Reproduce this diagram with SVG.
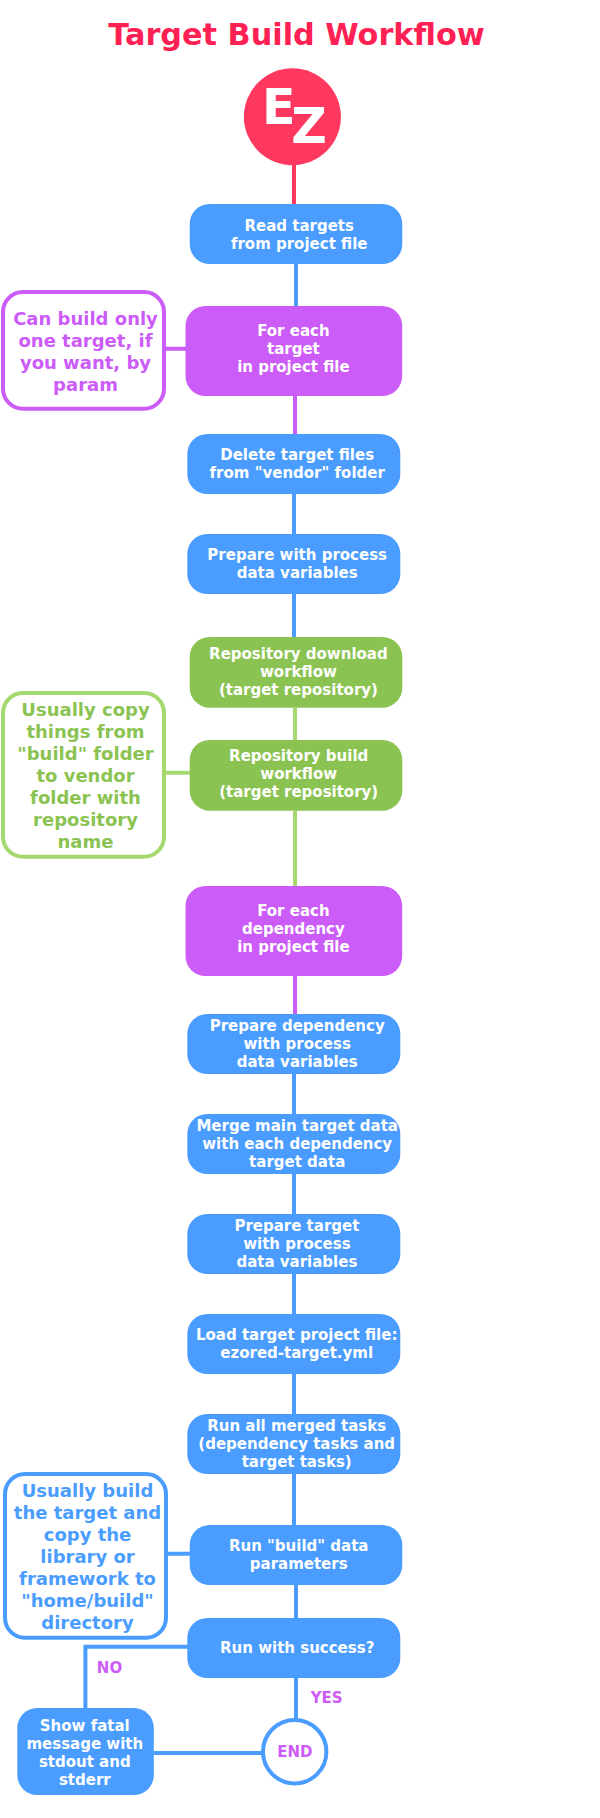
<svg xmlns="http://www.w3.org/2000/svg" width="600" height="1818" viewBox="0 0 600 1818">
<style>
text{font-family:"DejaVu Sans",Verdana,sans-serif;font-weight:700;text-anchor:middle}
.n{font-size:15px;fill:#fff}
.c{font-size:18px}
rect{rx:20px}
.b{fill:#4a9dff}.p{fill:#cc5cf7}.g{fill:#8bc352}
.cb{fill:#fff;stroke:#4a9dff;stroke-width:4}
.cp{fill:#fff;stroke:#cc5cf7;stroke-width:4}
.cg{fill:#fff;stroke:#a5d970;stroke-width:4}
.l{fill:none;stroke-width:4}
.lb{stroke:#4a9dff}.lp{stroke:#cc5cf7}.lg{stroke:#a5d970}.lr{stroke:#ff3860}
.t{font-size:15px;fill:#cc5cf7}
</style>
<rect style="rx:0" width="600" height="1818" fill="#fff"/>
<text id="title" x="296.5" y="45" font-size="30.3" fill="#ff2153">Target Build Workflow</text>
<g id="connectors">
<path class="l lr" d="M294 165V204"/>
<path class="l lb" d="M296 264V306"/>
<path class="l lp" d="M295 396V434M166 348.7H186"/>
<path class="l lb" d="M294 494V534M294 594V637"/>
<path class="l lg" d="M295 708V740M295 811V886M166 772.8H190"/>
<path class="l lp" d="M295 976V1014"/>
<path class="l lb" d="M294 1074V1114M294 1174V1214M294 1274V1314M294 1374V1414M294 1474V1525M168 1553.7H190M296 1585V1618M296 1678V1720M188 1646.8H85.4V1708M153.5 1753H262"/>
</g>
<g id="start"><circle cx="292.4" cy="116.7" r="48.5" fill="#ff3860"/>
<text x="278.8" y="124" font-size="49" fill="#fff">E</text>
<text x="309" y="142.7" font-size="49" fill="#fff">Z</text></g>
<g id="read-targets"><rect class="b" x="189.7" y="204" width="212.6" height="60"/>
<text class="n" y="231"><tspan x="299.2">Read targets</tspan><tspan x="299.2" dy="18">from project file</tspan></text></g>
<g id="for-each-target"><rect class="p" x="185.5" y="306" width="216.7" height="90"/>
<text class="n" y="336"><tspan x="293.4">For each</tspan><tspan x="293.4" dy="18">target</tspan><tspan x="293.4" dy="18">in project file</tspan></text></g>
<g id="note-target"><rect class="cp" x="3" y="292" width="161" height="116.7"/>
<text class="c p" y="325"><tspan x="85.5">Can build only</tspan><tspan x="85.5" dy="22">one target, if</tspan><tspan x="85.5" dy="22">you want, by</tspan><tspan x="85.5" dy="22">param</tspan></text></g>
<g id="delete-target"><rect class="b" x="187.3" y="434" width="213" height="60"/>
<text class="n" y="460"><tspan x="297.2">Delete target files</tspan><tspan x="297.2" dy="18">from "vendor" folder</tspan></text></g>
<g id="prepare-process"><rect class="b" x="187.3" y="534" width="213" height="60"/>
<text class="n" y="560"><tspan x="297.2">Prepare with process</tspan><tspan x="297.2" dy="18">data variables</tspan></text></g>
<g id="repo-download"><rect class="g" x="189.7" y="637" width="212.6" height="70.7"/>
<text class="n" y="659"><tspan x="298.4">Repository download</tspan><tspan x="298.4" dy="18">workflow</tspan><tspan x="298.4" dy="18">(target repository)</tspan></text></g>
<g id="repo-build"><rect class="g" x="189.7" y="740" width="212.6" height="70.7"/>
<text class="n" y="761"><tspan x="298.7">Repository build</tspan><tspan x="298.7" dy="18">workflow</tspan><tspan x="298.7" dy="18">(target repository)</tspan></text></g>
<g id="note-repo"><rect class="cg" x="3" y="693" width="161" height="163.7"/>
<text class="c g" y="716"><tspan x="85.5">Usually copy</tspan><tspan x="85.5" dy="22">things from</tspan><tspan x="85.5" dy="22">"build" folder</tspan><tspan x="85.5" dy="22">to vendor</tspan><tspan x="85.5" dy="22">folder with</tspan><tspan x="85.5" dy="22">repository</tspan><tspan x="85.5" dy="22">name</tspan></text></g>
<g id="for-each-dependency"><rect class="p" x="185.5" y="886" width="216.7" height="90"/>
<text class="n" y="916"><tspan x="293.4">For each</tspan><tspan x="293.4" dy="18">dependency</tspan><tspan x="293.4" dy="18">in project file</tspan></text></g>
<g id="prepare-dependency"><rect class="b" x="187.3" y="1014" width="213" height="60"/>
<text class="n" y="1031"><tspan x="297.2">Prepare dependency</tspan><tspan x="297.2" dy="18">with process</tspan><tspan x="297.2" dy="18">data variables</tspan></text></g>
<g id="merge"><rect class="b" x="187.3" y="1114" width="213" height="60"/>
<text class="n" y="1131"><tspan x="297.2">Merge main target data</tspan><tspan x="297.2" dy="18">with each dependency</tspan><tspan x="297.2" dy="18">target data</tspan></text></g>
<g id="prepare-target"><rect class="b" x="187.3" y="1214" width="213" height="60"/>
<text class="n" y="1231"><tspan x="296.9">Prepare target</tspan><tspan x="296.9" dy="18">with process</tspan><tspan x="296.9" dy="18">data variables</tspan></text></g>
<g id="load-target"><rect class="b" x="187.3" y="1314" width="213" height="60"/>
<text class="n" y="1340"><tspan x="296.7">Load target project file:</tspan><tspan x="296.7" dy="18">ezored-target.yml</tspan></text></g>
<g id="run-merged"><rect class="b" x="187.3" y="1414" width="213" height="60"/>
<text class="n" y="1431"><tspan x="296.7">Run all merged tasks</tspan><tspan x="296.7" dy="18">(dependency tasks and</tspan><tspan x="296.7" dy="18">target tasks)</tspan></text></g>
<g id="note-build"><rect class="cb" x="5" y="1474" width="161" height="163.7"/>
<text class="c b" y="1496.7"><tspan x="87.5">Usually build</tspan><tspan x="87.5" dy="22">the target and</tspan><tspan x="87.5" dy="22">copy the</tspan><tspan x="87.5" dy="22">library or</tspan><tspan x="87.5" dy="22">framework to</tspan><tspan x="87.5" dy="22">"home/build"</tspan><tspan x="87.5" dy="22">directory</tspan></text></g>
<g id="run-build"><rect class="b" x="189.7" y="1525" width="212.6" height="60"/>
<text class="n" y="1551"><tspan x="298.7">Run "build" data</tspan><tspan x="298.7" dy="18">parameters</tspan></text></g>
<g id="run-success"><rect class="b" x="187.3" y="1618" width="213" height="60"/>
<text class="n" x="297.2" y="1653">Run with success?</text></g>
<g id="fatal"><rect class="b" x="17.3" y="1708" width="136.5" height="87"/>
<text class="n" y="1731"><tspan x="84.8">Show fatal</tspan><tspan x="84.8" dy="18">message with</tspan><tspan x="84.8" dy="18">stdout and</tspan><tspan x="84.8" dy="18">stderr</tspan></text></g>
<g id="end"><circle class="cb" cx="294.7" cy="1751.7" r="31.7"/>
<text class="t" x="294.8" y="1756.7">END</text></g>
<g id="labels">
<text class="t" x="109.5" y="1672.7">NO</text>
<text class="t" x="326.7" y="1702.7">YES</text>
</g>
</svg>
